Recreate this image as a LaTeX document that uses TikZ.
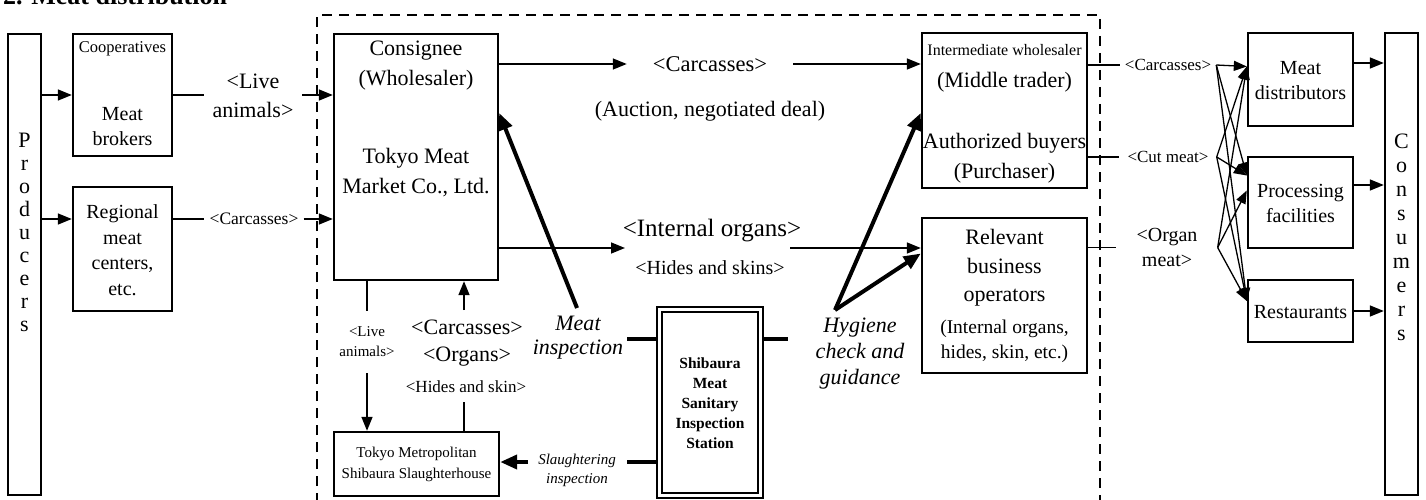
\documentclass[tikz,border=0pt]{standalone}
\usepackage{fontspec}
\setmainfont{Liberation Serif}
\usetikzlibrary{arrows.meta}
\newcommand{\setfs}[2]{\fontsize{#1}{#2}\selectfont}
\begin{document}
\begin{tikzpicture}[x=1pt,y=-1pt,
  box/.style={draw, line width=2.4pt, inner sep=0pt},
  txt/.style={inner sep=0pt, align=center},
  arr/.style={line width=1.5pt, -{Triangle[length=14pt,width=11pt]}},
  ln/.style={line width=1.5pt},
  thk/.style={line width=4pt},
  thkarr/.style={line width=4pt, -{Triangle[length=17pt,width=14pt]}},
  fan/.style={line width=1.3pt, -{Triangle[length=13pt,width=10pt]}},
]
\useasboundingbox (0,0) rectangle (1426,500);

% title (cut at the top edge)
\node[anchor=base west, inner sep=0pt, font=\bfseries\setfs{26}{30}] (title) at (3,5) {2. Meat distribution};

% dashed market frame
\draw[line width=2.5pt, dash pattern=on 10pt off 7pt] (317,520) -- (317,15) -- (1100,15) -- (1100,520);

% producers
\node[box, minimum width=33pt, minimum height=461pt] (prod) at (24.5,264.5) {};
\node[txt, font=\setfs{22}{23}] (prodt) at (24.5,232) {P\\r\\o\\d\\u\\c\\e\\r\\s};

% cooperatives
\node[box, minimum width=99pt, minimum height=122pt] (coop) at (122.5,95) {};
\node[txt, font=\setfs{16.5}{20}] (coopt1) at (122.5,49) {Cooperatives};
\node[txt, font=\setfs{20}{25}] (coopt2) at (122.5,127) {Meat\\brokers};

% regional
\node[box, minimum width=99pt, minimum height=124pt] (reg) at (122.5,249) {};
\node[txt, font=\setfs{20}{25.5}] (regt) at (122.5,250) {Regional\\meat\\centers,\\etc.};

% consignee
\node[box, minimum width=164pt, minimum height=246pt] (cons) at (416,157) {};
\node[txt, font=\setfs{22}{30}] (const1) at (416,66) {Consignee\\(Wholesaler)};
\node[txt, font=\setfs{22}{30}] (const2) at (416,173) {Tokyo Meat\\Market Co., Ltd.};

% slaughterhouse
\node[box, minimum width=165pt, minimum height=64pt] (slh) at (416.5,464) {};
\node[txt, font=\setfs{15}{21}] (slht) at (416.5,464) {Tokyo Metropolitan\\Shibaura Slaughterhouse};

% inspection station
\node[box, minimum width=106pt, minimum height=191pt] (stn) at (710,402.5) {};
\node[draw, line width=1.5pt, minimum width=96pt, minimum height=181pt, inner sep=0pt] (stnin) at (stn.center) {};
\node[txt, font=\bfseries\setfs{15.5}{20}] (stnt) at (710,403) {Shibaura\\Meat\\Sanitary\\Inspection\\Station};

% intermediate wholesaler
\node[box, minimum width=165pt, minimum height=155pt] (inter) at (1004.5,110.5) {};
\node[txt, font=\setfs{16}{20}] (intt1) at (1004.5,50) {Intermediate wholesaler};
\node[txt, font=\setfs{22}{26}] (intt2) at (1004.5,82) {(Middle trader)};
\node[txt, font=\setfs{22}{30}] (intt3) at (1004.5,158) {Authorized buyers\\(Purchaser)};

% relevant business operators
\node[box, minimum width=165pt, minimum height=155pt] (relev) at (1004.5,295.5) {};
\node[txt, font=\setfs{22}{28.5}] (relt1) at (1004.5,268) {Relevant\\business\\operators};
\node[txt, font=\setfs{19.5}{25}] (relt2) at (1004.5,341) {(Internal organs,\\hides, skin, etc.)};

% right boxes
\node[box, minimum width=105pt, minimum height=93pt] (md) at (1300.5,79.5) {};
\node[txt, font=\setfs{20}{25}] (mdt) at (1300.5,81) {Meat\\distributors};
\node[box, minimum width=105pt, minimum height=91pt] (pf) at (1300.5,202.5) {};
\node[txt, font=\setfs{20}{25}] (pft) at (1300.5,203) {Processing\\facilities};
\node[box, minimum width=105pt, minimum height=62pt] (rest) at (1300.5,311) {};
\node[txt, font=\setfs{20}{24}] (restt) at (1300.5,312) {Restaurants};

% consumers
\node[box, minimum width=33pt, minimum height=462pt] (consm) at (1401.5,264) {};
\node[txt, font=\setfs{22}{24}] (consmt) at (1401.5,237) {C\\o\\n\\s\\u\\m\\e\\r\\s};

% ---- labels ----
\node[txt, inner xsep=8.5pt, font=\setfs{22}{29}] (live1) at (253,96) {<Live\\animals>};
\node[txt, inner xsep=5pt, font=\setfs{17.5}{20}] (carcL) at (254,219) {<Carcasses>};
\node[txt, inner xsep=26pt, font=\setfs{22.5}{26}] (carcT) at (710,64) {<Carcasses>};
\node[txt, font=\setfs{22}{26}] (auction) at (710,111) {(Auction, negotiated deal)};
\node[txt, font=\setfs{25}{28}] (iolab) at (712,231) {<Internal organs>};
\node[txt, font=\setfs{20}{24}] (hides) at (710,268) {<Hides and skins>};
\node[txt, inner ysep=16pt, font=\setfs{15}{20}] (la) at (367,342) {<Live\\animals>};
\node[txt, font=\setfs{22}{26}] (cc) at (467,327) {<Carcasses>};
\node[txt, font=\setfs{22}{26}] (org) at (467,357) {<Organs>};
\node[txt, font=\setfs{17}{20}] (hsk) at (466,387) {<Hides and skin>};
\node[txt, font=\itshape\setfs{15}{19}] (slabel) at (577,470) {Slaughtering\\inspection};
\node[txt, font=\itshape\setfs{22}{24}] (mi) at (578,338) {Meat\\inspection};
\node[txt, font=\itshape\setfs{22}{26}] (hyg) at (860,354) {Hygiene\\check and\\guidance};
\node[txt, inner xsep=5pt, font=\setfs{17}{20}] (cR) at (1168,65) {<Carcasses>};
\node[txt, inner xsep=8pt, font=\setfs{17}{20}] (cm) at (1168,157) {<Cut meat>};
\node[txt, inner xsep=20pt, font=\setfs{20}{25}] (om) at (1167,247.5) {<Organ\\meat>};

% ---- coordinates for free ends ----
\coordinate (io1) at (625,248);
\coordinate (io2) at (790,248);
\coordinate (up1) at (464,310);
\coordinate (hs1) at (464,402);
\coordinate (m1) at (627,339);
\coordinate (m2) at (577,308);
\coordinate (s1) at (627,462);
\coordinate (s2) at (528,462);
\coordinate (h1) at (788,339);
\coordinate (h2) at (835,310);
\coordinate (pr1) at (41,219);

% ---- connectors ----
\draw[arr] (prod.east |- coop.west) -- (coop.west);
\draw[arr] (prod.east |- pr1) -- (reg.west |- pr1);
\draw[ln] (coop.east) -- (live1.west |- coop.east);
\draw[arr] (live1.east |- coop.east) -- (cons.west |- coop.east);
\draw[ln] (reg.east |- carcL) -- (carcL.west);
\draw[arr] (carcL.east) -- (cons.west |- carcL);

\draw[arr] (cons.east |- carcT) -- (carcT.west);
\draw[arr] (carcT.east) -- (inter.west |- carcT);
\draw[arr] (cons.east |- io1) -- (io1);
\draw[arr] (io2) -- (relev.west |- io2);

\draw[ln] (cons.south -| la) -- (la.north);
\draw[arr] (la.south) -- (slh.north -| la);
\draw[arr] (up1) -- (cons.south -| up1);
\draw[ln] (hs1) -- (slh.north -| hs1);

\draw[thk] (stn.west |- m1) -- (m1);
\draw[thk] (stn.west |- s1) -- (s1);
\draw[thkarr] (s2) -- (slh.east |- s2);
\draw[thkarr] (m2) -- ([yshift=44pt]cons.east);
\draw[thk] (stn.east |- h1) -- (h1);
\draw[thkarr] (h2) -- ([yshift=-2.5pt]inter.west);
\draw[thkarr] (h2) -- ([yshift=42pt]relev.west);

\draw[ln] (inter.east |- cR) -- (cR.west);
\draw[ln] (inter.east |- cm) -- (cm.west);
\draw[ln] (relev.east |- om) -- (om.west);

\draw[fan] (cR.east) -- ([yshift=13pt]md.west);
\draw[fan] (cR.east) -- ([yshift=27pt]pf.west);
\draw[fan] (cR.east) -- ([yshift=10pt]rest.west);
\draw[fan] (cm.east) -- ([yshift=13pt]md.west);
\draw[fan] (cm.east) -- ([yshift=27pt]pf.west);
\draw[fan] (cm.east) -- ([yshift=10pt]rest.west);
\draw[fan] (om.east) -- ([yshift=13pt]md.west);
\draw[fan] (om.east) -- ([yshift=12pt]pf.west);
\draw[fan] (om.east) -- ([yshift=10pt]rest.west);

\path ([yshift=16.5pt]md.east) coordinate (mdo);
\draw[arr] (mdo) -- (consm.west |- mdo);
\path ([yshift=17.5pt]pf.east) coordinate (pfo);
\draw[arr] (pfo) -- (consm.west |- pfo);
\draw[arr] (rest.east) -- (consm.west |- rest.east);
\end{tikzpicture}
\end{document}
